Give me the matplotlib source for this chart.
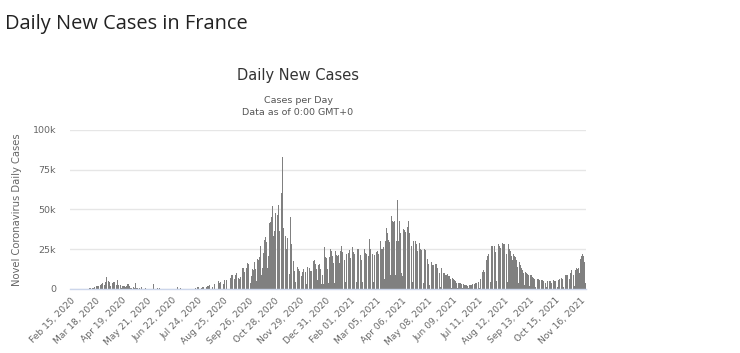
import matplotlib
matplotlib.use("Agg")
import matplotlib.pyplot as plt
import numpy as np
import pandas as pd

# Daily new cases, France, starting Sat Feb 15, 2020 (rows are Sat..Fri weeks)
cases_2020 = [
    [1, 0, 0, 0, 0, 0, 0],
    [0, 0, 0, 2, 4, 20, 19],
    [43, 30, 61, 21, 73, 138, 190],
    [336, 177, 286, 372, 497, 595, 785],
    [838, 924, 1210, 1097, 1404, 1861, 1617],
    [1847, 1559, 3838, 2446, 2931, 3922, 3809],
    [4611, 2599, 4376, 7578, 4861, 2116, 5233],
    [4267, 1873, 3912, 3777, 3881, 4286, 4342],
    [3114, 1613, 2673, 5497, 2633, 2641, 405],
    [2569, 785, 2051, 2667, 1827, 1653, 1537],
    [1842, 1113, 3034, 3292, 1607, 758, 1139],
    [800, 0, 1500, 600, 0, 3640, 580],
    [579, 0, 456, 802, 0, 1250, 0],
    [0, 0, 0, 524, 0, 1000, 0],
    [0, 0, 0, 0, 0, 0, 3325],
    [0, 0, 0, 0, 767, 611, 0],
    [579, 0, 0, 0, 0, 0, 0],
    [0, 0, 0, 0, 0, 0, 0],
    [0, 0, 0, 0, 0, 0, 0],
    [0, 1100, 0, 0, 0, 900, 0],
    [0, 0, 0, 0, 0, 0, 0],
    [0, 0, 0, 0, 0, 0, 0],
    [0, 0, 0, 700, 0, 1000, 1130],
    [1000, 0, 0, 725, 1392, 1377, 1346],
    [0, 0, 0, 1039, 1695, 1604, 2288],
    [0, 0, 0, 1397, 2524, 2669, 2846],
    [0, 0, 0, 3776, 4771, 3541, 4586],
    [0, 0, 0, 3304, 5429, 6111, 7379],
    [5453, 0, 0, 4982, 7017, 7157, 8975],
    [8550, 7071, 4203, 6544, 8577, 9843, 9406],
    [10561, 7183, 6158, 7852, 9784, 10593, 13215],
    [13498, 10569, 5298, 10008, 13072, 16096, 15797],
    [14412, 11123, 4070, 8051, 12845, 16972, 12148],
    [16972, 12565, 5084, 10489, 18746, 18129, 20339],
    [26896, 16101, 8505, 12993, 22591, 30621, 25086],
    [32427, 29837, 13243, 20468, 26676, 41622, 42032],
    [45422, 52010, 26771, 33417, 36437, 47637, 49215],
    [35641, 46290, 52518, 36330, 40558, 58046, 60486],
    [83000, 38619, 20155, 35879, 33172, 25086, 32095],
    [22882, 27228, 9406, 45522, 28383, 21150, 22882],
    [17881, 11022, 4452, 9155, 16282, 13563, 12580],
    [11221, 9784, 4005, 8083, 10934, 12696, 11221],
    [11022, 10948, 3411, 13713, 14595, 13750, 13406],
    [11532, 11533, 3063, 11532, 17615, 18254, 15674],
    [15527, 12799, 5960, 14929, 15674, 19347, 12578],
    [3093, 8822, 2960, 11395, 26457, 20177, 19348],
]

cases_2021 = [
    [12489, 12489, 4022, 19927, 25379, 23770, 20177],
    [20852, 16642, 3736, 23852, 23770, 21228, 20586],
    [21271, 16642, 3582, 23608, 26916, 23292, 22848],
    [23924, 18436, 4240, 22086, 26916, 25366, 22858],
    [24392, 19235, 4347, 23337, 26362, 23448, 22139],
    [20586, 19715, 4317, 25387, 25286, 21063, 19715],
    [21231, 17985, 4376, 18870, 24116, 25207, 22371],
    [22046, 19568, 4346, 20701, 31519, 25403, 25207],
    [24116, 21825, 4376, 21379, 26788, 25279, 23507],
    [23996, 21825, 4420, 22857, 29975, 25229, 25229],
    [29759, 26343, 6471, 29975, 38501, 34998, 35088],
    [30581, 29280, 9005, 28285, 45641, 42619, 41869],
    [42619, 37014, 9094, 29975, 56000, 30000, 53000],
    [42603, 35000, 9800, 8000, 38500, 38000, 37000],
    [36000, 29000, 5000, 39000, 43000, 35000, 34000],
    [32700, 27000, 4500, 30000, 34900, 31000, 30000],
    [28000, 24000, 4000, 30000, 29000, 25000, 24500],
    [23500, 19000, 3600, 25000, 24400, 20000, 20000],
    [19000, 16000, 2700, 20000, 19500, 17000, 15000],
    [15000, 12000, 2500, 16000, 16000, 13000, 13500],
    [13000, 10000, 1500, 13000, 13400, 11000, 10000],
    [10000, 8500, 1200, 9000, 9500, 8000, 8000],
    [7500, 6000, 900, 7000, 6500, 5500, 5500],
    [4800, 4000, 700, 4500, 4000, 3500, 3500],
    [3200, 2500, 500, 3000, 2800, 2500, 2300],
    [2400, 2000, 450, 2500, 2800, 2700, 2800],
    [2900, 2500, 500, 3300, 4000, 4000, 4200],
    [4800, 4300, 900, 6000, 8000, 10500, 11000],
    [12000, 10500, 2000, 14000, 18000, 21000, 22000],
    [25000, 22000, 4500, 27000, 27000, 27000, 26000],
    [27000, 23000, 5000, 27000, 30000, 28000, 27000],
    [26000, 24000, 5000, 29000, 28000, 28000, 30000],
    [26000, 22000, 4500, 28000, 27000, 25000, 24000],
    [21000, 18000, 4000, 22000, 21000, 20000, 18000],
    [16000, 14000, 3500, 17000, 15000, 14000, 13000],
    [12000, 10000, 2500, 12000, 11000, 10000, 9500],
    [9000, 7500, 1800, 9000, 8500, 7500, 7000],
    [7000, 6000, 1500, 7500, 7000, 6500, 6000],
    [5500, 4500, 1200, 5500, 5500, 5000, 4800],
    [4500, 4000, 1000, 5000, 5500, 4800, 5000],
    [4800, 4000, 1000, 5200, 5500, 5000, 5200],
    [5500, 4500, 1000, 5800, 6000, 6000, 6500],
    [7000, 6500, 1500, 9000, 9500, 9000, 8800],
    [8500, 7000, 1500, 6000, 10000, 12000, 11000],
    [11000, 8500, 1800, 12000, 14000, 13000, 12500],
    [13000, 10000, 2500, 19000, 21000, 22000, 21000],
    [21000, 17000, 4000],
]

start_date = "2020-02-15"
tick_labels = ["Feb 15, 2020", "Mar 18, 2020", "Apr 19, 2020", "May 21, 2020",
               "Jun 22, 2020", "Jul 24, 2020", "Aug 25, 2020", "Sep 26, 2020",
               "Oct 28, 2020", "Nov 29, 2020", "Dec 31, 2020", "Feb 01, 2021",
               "Mar 05, 2021", "Apr 06, 2021", "May 08, 2021", "Jun 09, 2021",
               "Jul 11, 2021", "Aug 12, 2021", "Sep 13, 2021", "Oct 15, 2021",
               "Nov 16, 2021"]
y_ticks = [0, 25000, 50000, 75000, 100000]
y_tick_labels = ["0", "25k", "50k", "75k", "100k"]

values = np.array([v for wk in cases_2020 + cases_2021 for v in wk], dtype=float)
dates = pd.date_range(start_date, periods=len(values), freq="D")
categories = [d.strftime("%b %d, %Y") for d in dates]
tick_pos = [categories.index(t) for t in tick_labels]

W, H = 740, 353
fig = plt.figure(figsize=(W / 100, H / 100), dpi=100)
fig.patch.set_facecolor("white")

ax = fig.add_axes([70 / W, (H - 289) / H, 516 / W, 159 / H])
x = np.arange(len(values))
ax.bar(x, values, width=0.85, color="#808080", linewidth=0, zorder=2)

ax.set_xlim(-0.5, len(values) - 0.5)
ax.set_ylim(0, 100000)
ax.set_yticks(y_ticks)
ax.set_yticklabels(y_tick_labels, fontsize=6.8, color="#666666")
ax.grid(axis="y", color="#e6e6e6", linewidth=1, zorder=0)
ax.set_axisbelow(True)
ax.tick_params(axis="y", length=0, pad=10)
ax.set_xticks(tick_pos)
ax.set_xticklabels(tick_labels, rotation=45, ha="right", va="top",
                   rotation_mode="anchor", fontsize=6.6, color="#666666")
ax.tick_params(axis="x", length=0, pad=5)
for s in ["top", "right", "left"]:
    ax.spines[s].set_visible(False)
ax.spines["bottom"].set_color("#ccd6eb")
ax.spines["bottom"].set_linewidth(1)

ax.set_ylabel("Novel Coronavirus Daily Cases", fontsize=7.2, color="#666666")
ax.yaxis.set_label_coords(-(70 - 22) / 516, 0.5)

fig.text(5 / W, 1 - 29 / H, "Daily New Cases in France", fontsize=14.4,
         family="Open Sans", color="#222222", ha="left", va="baseline")
fig.text(298 / W, 1 - 80 / H, "Daily New Cases", fontsize=10.5,
         color="#333333", ha="center", va="baseline")
fig.text(298 / W, 1 - 103 / H, "Cases per Day", fontsize=6.8,
         color="#555555", ha="center", va="baseline")
fig.text(298 / W, 1 - 115 / H, "Data as of 0:00 GMT+0", fontsize=6.8,
         color="#555555", ha="center", va="baseline")

fig.savefig("out.png", dpi=100, facecolor="white")
